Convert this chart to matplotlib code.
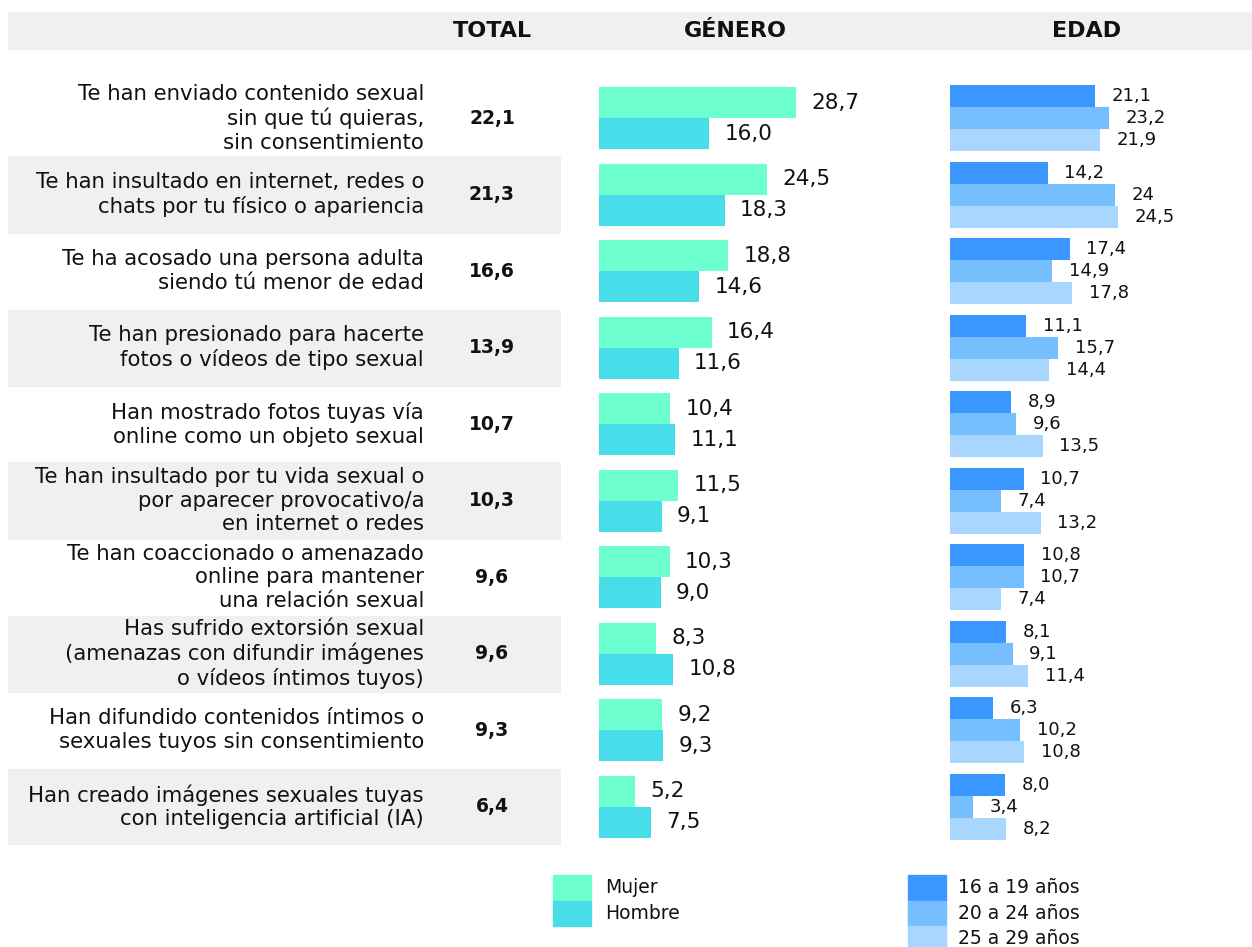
import numpy as np
import matplotlib
matplotlib.use("Agg")
import matplotlib.pyplot as plt
from matplotlib.patches import Rectangle

plt.rcParams['font.family'] = ['DejaVu Sans']

labels = [
    "Te han enviado contenido sexual\nsin que tú quieras,\nsin consentimiento",
    "Te han insultado en internet, redes o\nchats por tu físico o apariencia",
    "Te ha acosado una persona adulta\nsiendo tú menor de edad",
    "Te han presionado para hacerte\nfotos o vídeos de tipo sexual",
    "Han mostrado fotos tuyas vía\nonline como un objeto sexual",
    "Te han insultado por tu vida sexual o\npor aparecer provocativo/a\nen internet o redes",
    "Te han coaccionado o amenazado\nonline para mantener\nuna relación sexual",
    "Has sufrido extorsión sexual\n(amenazas con difundir imágenes\no vídeos íntimos tuyos)",
    "Han difundido contenidos íntimos o\nsexuales tuyos sin consentimiento",
    "Han creado imágenes sexuales tuyas\ncon inteligencia artificial (IA)",
]
total = ["22,1", "21,3", "16,6", "13,9", "10,7", "10,3", "9,6", "9,6", "9,3", "6,4"]
mujer = [28.7, 24.5, 18.8, 16.4, 10.4, 11.5, 10.3, 8.3, 9.2, 5.2]
hombre = [16.0, 18.3, 14.6, 11.6, 11.1, 9.1, 9.0, 10.8, 9.3, 7.5]
edad_16_19 = [21.1, 14.2, 17.4, 11.1, 8.9, 10.7, 10.8, 8.1, 6.3, 8.0]
edad_20_24 = [23.2, 24, 14.9, 15.7, 9.6, 7.4, 10.7, 9.1, 10.2, 3.4]
edad_25_29 = [21.9, 24.5, 17.8, 14.4, 13.5, 13.2, 7.4, 11.4, 10.8, 8.2]

gen_names = ["Mujer", "Hombre"]
edad_names = ["16 a 19 años", "20 a 24 años", "25 a 29 años"]
gen_colors = ["#6effd0", "#48dee9"]
edad_colors = ["#3a97ff", "#75bfff", "#a8d6ff"]
grey = "#f0f0f0"

W, H = 1252, 947
fig = plt.figure(figsize=(W / 100, H / 100), dpi=100)


def px_axes(x0, y0, x1, y1):
    # axes from pixel box (top-left origin)
    return fig.add_axes([x0 / W, 1 - y1 / H, (x1 - x0) / W, (y1 - y0) / H])


def fmt(v):
    if isinstance(v, int):
        return str(v)
    return f"{v:.1f}".replace(".", ",")


n = len(labels)
top, bottom = 80, 845
scale = 6.87  # px per unit

# header band
fig.patches.append(Rectangle((8 / W, 1 - 49 / H), (W - 8) / W, 37 / H,
                             transform=fig.transFigure, color=grey, zorder=0))
for txt, x in [("TOTAL", 492), ("GÉNERO", 735), ("EDAD", 1087)]:
    fig.text(x / W, 1 - 31 / H, txt, ha="center", va="center",
             fontsize=16, fontweight="bold", color="#111111")

# labels + total column
ax_l = px_axes(8, top, 561, bottom)
ax_l.set_xlim(8, 561)
ax_l.set_ylim(n, 0)
ax_l.axis("off")
for i in range(n):
    if i % 2 == 1:
        ax_l.axhspan(i, i + 1, color=grey, zorder=0)
    ax_l.text(424, i + 0.5, labels[i], ha="right", va="center",
              fontsize=15.3, linespacing=1.22, color="#111111")
    ax_l.text(492, i + 0.5, total[i], ha="center", va="center",
              fontsize=13.5, fontweight="bold", color="#111111")

# gender bars
ax_g = px_axes(599, top, 930, bottom)
ax_g.set_xlim(0, 331 / scale)
ax_g.set_ylim(n, 0)
ax_g.axis("off")
y = np.arange(n) + 0.5
hg = 31 / 76.5
for k, (vals, col) in enumerate(zip([mujer, hombre], gen_colors)):
    yy = y + (k - 0.5) * hg
    ax_g.barh(yy, vals, height=hg, color=col)
    for v, yc in zip(vals, yy):
        ax_g.annotate(fmt(v), (v, yc), xytext=(11, 0), textcoords="offset points",
                      ha="left", va="center", fontsize=15.5, color="#111111")

# age bars
ax_e = px_axes(950, top, W, bottom)
ax_e.set_xlim(0, (W - 950) / scale)
ax_e.set_ylim(n, 0)
ax_e.axis("off")
he = 22 / 76.5
for k, (vals, col) in enumerate(zip([edad_16_19, edad_20_24, edad_25_29], edad_colors)):
    yy = y + (k - 1) * he
    ax_e.barh(yy, vals, height=he, color=col)
    for v, yc in zip(vals, yy):
        ax_e.annotate(fmt(v), (v, yc), xytext=(12, 0), textcoords="offset points",
                      ha="left", va="center", fontsize=13, color="#111111")

# legends
for names, cols, x0, xt in [(gen_names, gen_colors, 553, 605),
                            (edad_names, edad_colors, 908, 958)]:
    for k, (name, col) in enumerate(zip(names, cols)):
        y0 = 875 + k * 25.5
        fig.patches.append(Rectangle((x0 / W, 1 - (y0 + 25.5) / H), 38 / W, 25.5 / H,
                                     transform=fig.transFigure, color=col))
        fig.text(xt / W, 1 - (y0 + 12.5) / H, name, ha="left", va="center",
                 fontsize=13.5, color="#111111")

fig.savefig("out.png", dpi=100)
